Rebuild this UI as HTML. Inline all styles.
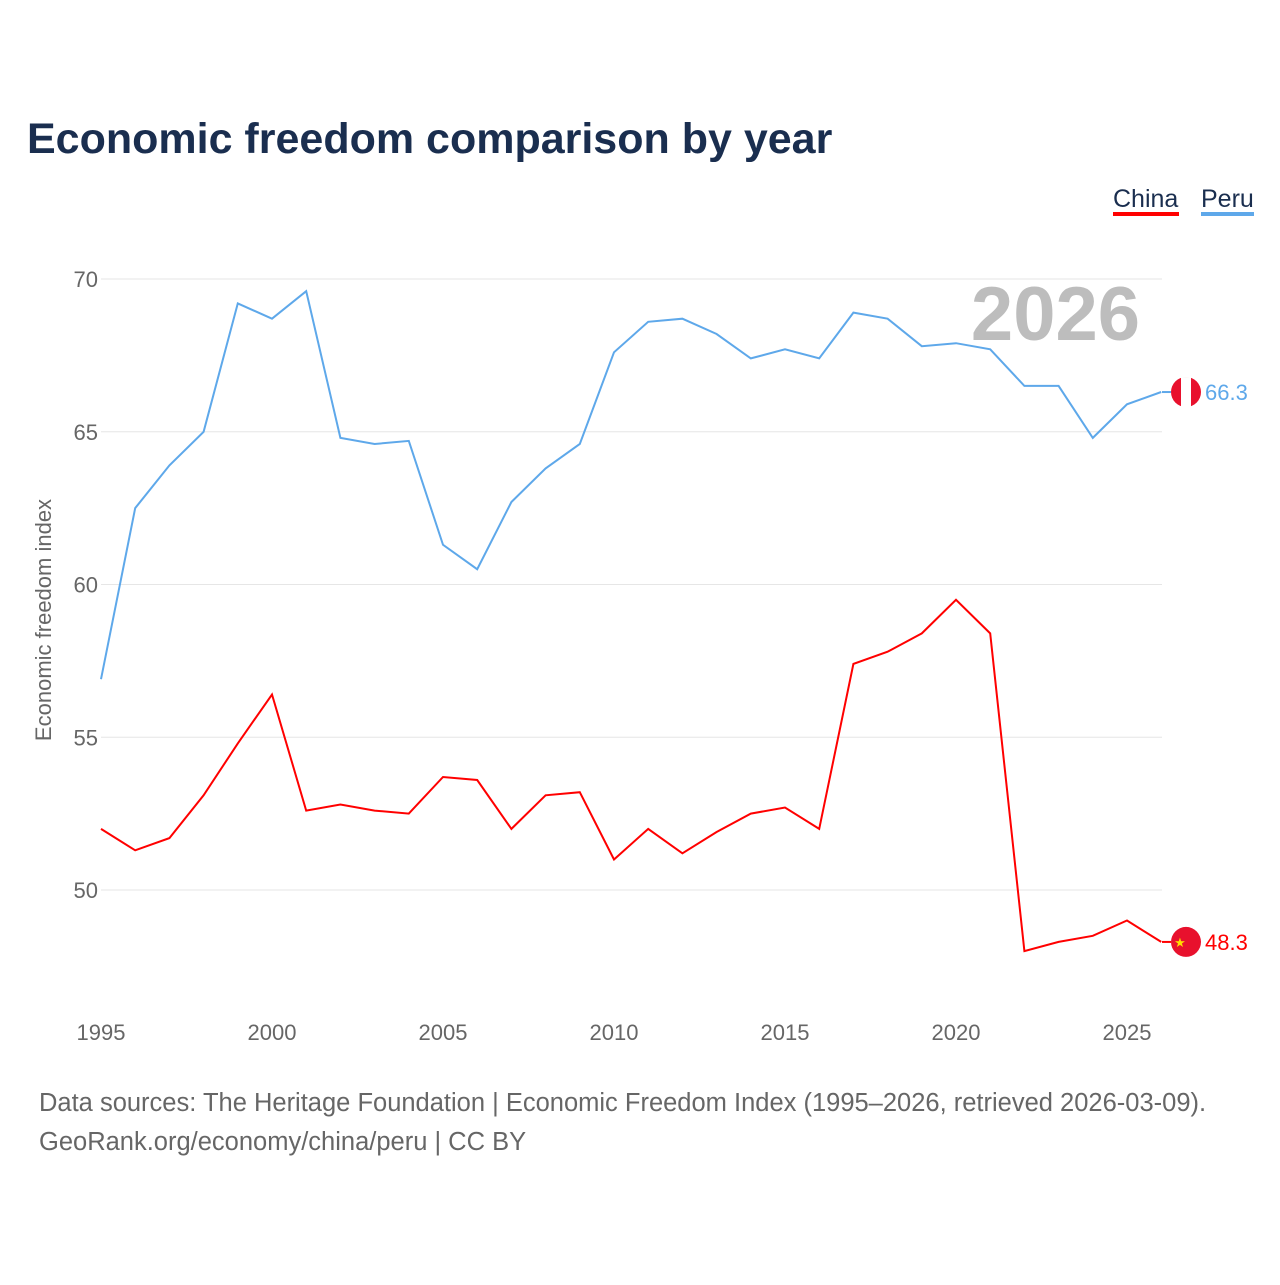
<!DOCTYPE html>
<html><head><meta charset="utf-8"><style>
body{margin:0;background:#fff;font-family:"Liberation Sans",sans-serif;}
</style></head><body>
<svg id="chart" width="1280" height="1280" xmlns="http://www.w3.org/2000/svg">
<text x="27" y="153" font-size="43" font-weight="bold" fill="#1a2e4f">Economic freedom comparison by year</text>
<g>
<text x="1113" y="207" font-size="25" fill="#1a2e4f">China</text>
<rect x="1113" y="212" width="66" height="4" fill="#ff0000"/>
<text x="1201" y="207" font-size="25" fill="#1a2e4f">Peru</text>
<rect x="1201" y="212" width="53" height="4" fill="#5ea8ea"/>
</g>
<text x="1140" y="340" font-size="76" font-weight="bold" fill="#bdbdbd" text-anchor="end">2026</text>
<text transform="translate(51,620) rotate(-90)" font-size="22" fill="#666" text-anchor="middle">Economic freedom index</text>
<g id="grid"></g><g id="series"></g>
<text x="39" y="1111" font-size="25.5" fill="#666">Data sources: The Heritage Foundation | Economic Freedom Index (1995–2026, retrieved 2026-03-09).</text>
<text x="39" y="1150" font-size="25.5" fill="#666">GeoRank.org/economy/china/peru | CC BY</text>
</svg>
<script>
const years=[];for(let y=1995;y<=2026;y++)years.push(y);
const peru=[56.9,62.5,63.9,65.0,69.2,68.7,69.6,64.8,64.6,64.7,61.3,60.5,62.7,63.8,64.6,67.6,68.6,68.7,68.2,67.4,67.7,67.4,68.9,68.7,67.8,67.9,67.7,66.5,66.5,64.8,65.9,66.3];
const china=[52.0,51.3,51.7,53.1,54.8,56.4,52.6,52.8,52.6,52.5,53.7,53.6,52.0,53.1,53.2,51.0,52.0,51.2,51.9,52.5,52.7,52.0,57.4,57.8,58.4,59.5,58.4,48.0,48.3,48.5,49.0,48.3];
const yTicks=[50,55,60,65,70];
const xTicks=[1995,2000,2005,2010,2015,2020,2025];
const NS="http://www.w3.org/2000/svg";
const xs=y=>101+(y-1995)*(1127-101)/30;
const ys=v=>890-(v-50)*(890-279)/20;
function mk(t,a,p){const e=document.createElementNS(NS,t);for(const k in a)e.setAttribute(k,a[k]);p.appendChild(e);return e;}
const g=document.getElementById('grid');
yTicks.forEach(v=>{
 const l=mk('line',{x1:101,x2:1162,y1:ys(v),y2:ys(v),stroke:'#e6e6e6','stroke-width':1},g);
 
 
 const t=mk('text',{x:98,y:ys(v)+8,'font-size':22,fill:'#666','text-anchor':'end'},g);t.textContent=v;
 
 
});
xTicks.forEach(y=>{
 const t=mk('text',{x:xs(y),y:1040,'font-size':22,fill:'#666','text-anchor':'middle'},g);t.textContent=y;
 
 
});
const s=document.getElementById('series');
function line(vals,color,name){
 const d=vals.map((v,i)=>(i?'L':'M')+xs(years[i]).toFixed(1)+','+ys(v).toFixed(1)).join('');
 const p=mk('path',{d:d,fill:'none',stroke:color,'stroke-width':2},s);
 
 
 const last=vals[vals.length-1];const cy=ys(last);
 const c=mk('circle',{cx:1186,cy:cy,r:15,fill:'#e8112d'},s);
 
 
 if(name==='peru'){mk('rect',{x:1181,y:cy-15,width:10,height:30,fill:'#fff'},s);}
 else{const st=mk('text',{x:1180,y:cy+5,'font-size':13,fill:'#ffde00','text-anchor':'middle'},s);st.textContent='★';}
 mk('line',{x1:1162,x2:1171,y1:cy,y2:cy,stroke:color,'stroke-width':2},s);
 const t=mk('text',{x:1205,y:cy+8,'font-size':22,fill:color},s);t.textContent=last.toFixed(1);
 
 
}
line(peru,'#5ea8ea','peru');
line(china,'#ff0000','china');
</script>
</body></html>
